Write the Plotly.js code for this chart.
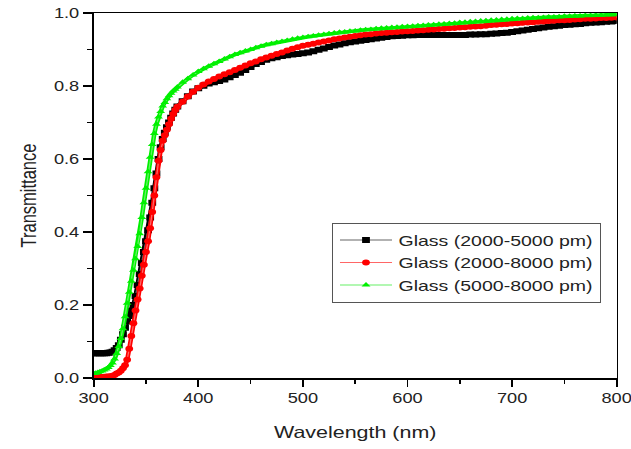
<!DOCTYPE html>
<html>
<head>
<meta charset="utf-8">
<script src="https://cdn.plot.ly/plotly-3.0.1.min.js"></script>
<style>
html,body{margin:0;padding:0;background:#fff;overflow:hidden;width:631px;height:449px;}
/* the reference picture is horizontally stretched; draw narrower and stretch */
#chart{width:490px;height:449px;transform:scaleX(1.30103);transform-origin:0 0;}
</style>
</head>
<body>
<div id="chart"></div>
<script>
// Wavelength grid (nm): 2 nm steps through the absorption edge, then 5 nm steps
const wavelengthEdge = [300,302,304,306,308,310,312,314,316,318,320,322,324,326,328,330,332,334,336,338,340,342,344,346,348,350,352,354,356,358,360,362,364,366,368,370,372,374,376,378,380];
const wavelengthTail = [385,390,395,400,405,410,415,420,425,430,435,440,445,450,455,460,465,470,475,480,485,490,495,500,505,510,515,520,525,530,535,540,545,550,555,560,565,570,575,580,585,590,595,600,605,610,615,620,625,630,635,640,645,650,655,660,665,670,675,680,685,690,695,700,705,710,715,720,725,730,735,740,745,750,755,760,765,770,775,780,785,790,795,800];

const seriesNames = ["Glass (2000-5000 pm)", "Glass (2000-8000 pm)", "Glass (5000-8000 pm)"];

const glass2000_5000 = [
  .068,.068,.068,.068,.068,.068,.068,.069,.07,.072,.076,.082,.09,.105,.12,.138,.155,.17,.185,.2,.225,.255,.285,.315,.345,.375,.405,.44,.48,.52,.56,.6,.632,.655,.672,.687,.7,.713,.725,.735,.744,
  .758,.772,.785,.794,.801,.807,.81,.814,.818,.824,.83,.836,.844,.852,.86,.866,.872,.876,.879,.882,.884,.886,.888,.89,.892,.895,.899,.903,.907,.911,.914,.917,.92,.922,.924,.926,.928,.93,.932,.934,.936,.937,.938,.939,.939,.94,.94,.94,.94,.94,.94,.94,.94,.94,.94,.941,.941,.942,.942,.943,.944,.945,.946,.948,.95,.952,.954,.956,.958,.96,.962,.964,.965,.967,.968,.969,.97,.972,.973,.974,.975,.976,.977,.978
];
const glass2000_8000 = [
  .003,.003,.003,.003,.003,.003,.004,.004,.005,.006,.008,.012,.015,.02,.027,.035,.05,.08,.115,.15,.185,.215,.245,.28,.31,.345,.375,.41,.455,.5,.55,.595,.625,.65,.665,.68,.695,.71,.723,.734,.743,
  .757,.771,.784,.795,.804,.812,.819,.826,.832,.838,.844,.85,.856,.862,.867,.873,.878,.883,.888,.892,.897,.902,.906,.91,.913,.916,.919,.922,.925,.928,.93,.933,.935,.937,.939,.941,.942,.944,.945,.946,.947,.948,.949,.95,.951,.952,.953,.954,.955,.956,.957,.958,.959,.96,.961,.962,.963,.964,.965,.967,.968,.969,.97,.971,.972,.973,.974,.975,.976,.977,.978,.979,.98,.98,.981,.982,.983,.984,.984,.985,.986,.986,.987,.988
];
const glass5000_8000 = [
  .012,.013,.015,.017,.019,.022,.025,.029,.034,.041,.052,.067,.086,.108,.135,.168,.205,.235,.265,.295,.327,.36,.395,.44,.48,.52,.565,.605,.64,.67,.695,.715,.73,.745,.755,.765,.773,.78,.786,.791,.797,
  .81,.82,.83,.84,.847,.854,.861,.867,.874,.88,.886,.891,.896,.9,.905,.909,.913,.916,.919,.922,.925,.928,.931,.933,.935,.937,.939,.941,.943,.945,.947,.948,.95,.951,.953,.954,.955,.957,.958,.959,.96,.961,.962,.963,.964,.965,.966,.967,.968,.969,.97,.971,.972,.974,.975,.976,.977,.978,.979,.98,.981,.982,.983,.984,.985,.985,.986,.987,.987,.988,.989,.989,.99,.991,.991,.992,.992,.993,.993,.994,.994,.995,.995,.996
];

const xTickVals = [300,400,500,600,700,800];
const yTickVals = [0,0.2,0.4,0.6,0.8,1.0];

const wavelength = wavelengthEdge.concat(wavelengthTail);
const colors = ["#000000", "#ff0000", "#00f000"];
const legendLineColors = ["#666666", "#ff6666", "#66f066"];
const symbols = ["square", "circle", "triangle-up"];
const values = [glass2000_5000, glass2000_8000, glass5000_8000];

const traces = [];
values.forEach((v, i) => {
  // thick band underneath (no legend entry)
  traces.push({
    x: wavelength, y: v, type: "scatter", mode: "lines", showlegend: false,
    line: {color: colors[i], width: 3.5}, hoverinfo: "skip"
  });
  // markers with thin line (legend entry)
  traces.push({
    x: wavelength, y: v, name: seriesNames[i], type: "scatter", mode: "lines+markers",
    line: {color: legendLineColors[i], width: 1},
    marker: {color: colors[i], symbol: symbols[i], size: 6, line: {width: 0}}
  });
});

const fam = "Liberation Sans, Arial, sans-serif";
const axisFont = {family: fam, size: 14, color: "#222"};

const layout = {
  width: 490, height: 449,
  margin: {l: 71.5, r: 15.5, t: 13, b: 71},
  paper_bgcolor: "#fff", plot_bgcolor: "#fff",
  showlegend: true,
  xaxis: {
    range: [300, 800], tickvals: xTickVals, ticktext: xTickVals.map(String),
    ticks: "outside", ticklen: 7, tickwidth: 1.3, tickcolor: "#000",
    minor: {dtick: 50, ticks: "outside", ticklen: 4, tickwidth: 1.3, tickcolor: "#000", showgrid: false},
    showline: true, linecolor: "#000", linewidth: 1.5, mirror: true,
    showgrid: false, zeroline: false,
    tickfont: axisFont,
    title: {text: "Wavelength (nm)", font: {family: fam, size: 16.5, color: "#222"}, standoff: 21}
  },
  yaxis: {
    range: [0, 1.0], tickvals: yTickVals, ticktext: yTickVals.map(v => v.toFixed(1)),
    ticks: "outside", ticklen: 7, tickwidth: 1.5, tickcolor: "#000",
    minor: {dtick: 0.1, ticks: "outside", ticklen: 4, tickwidth: 1.5, tickcolor: "#000", showgrid: false},
    showline: true, linecolor: "#000", linewidth: 1.3, mirror: true,
    showgrid: false, zeroline: false,
    tickfont: axisFont,
    title: {text: "Transmittance", font: {family: fam, size: 16.5, color: "#222"}, standoff: 9}
  },
  legend: {
    x: 0.456, y: 0.4255, xanchor: "left", yanchor: "top",
    bgcolor: "#fff", bordercolor: "#555", borderwidth: 1,
    font: {family: fam, size: 15, color: "#222"},
    tracegroupgap: 0, itemwidth: 40
  }
};

Plotly.newPlot("chart", traces, layout, {displayModeBar: false, staticPlot: true});
</script>
</body>
</html>
